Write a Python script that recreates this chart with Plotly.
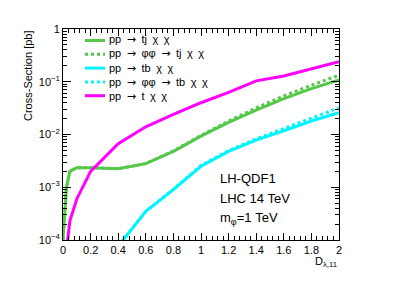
import plotly.graph_objects as go

# ---- data ----
x_tj = [0.0, 0.025, 0.05, 0.1, 0.2, 0.4, 0.6, 0.8, 1.0, 1.2, 1.4, 1.6, 1.8, 2.0]
y_tj = [1.0e-4, 1.0e-3, 2.0e-3, 2.35e-3, 2.35e-3, 2.25e-3, 2.8e-3, 4.8e-3, 9.3e-3, 1.7e-2, 2.9e-2, 4.8e-2, 7.4e-2, 0.108]
y_phiphi_tj = [1.0e-4, 1.0e-3, 2.0e-3, 2.35e-3, 2.35e-3, 2.25e-3, 2.8e-3, 4.9e-3, 9.6e-3, 1.8e-2, 3.2e-2, 5.4e-2, 8.6e-2, 0.133]

x_tb = [0.4, 0.6, 0.8, 1.0, 1.2, 1.4, 1.6, 1.8, 2.0]
y_tb = [7.6e-5, 3.5e-4, 9.0e-4, 2.5e-3, 4.8e-3, 7.8e-3, 1.18e-2, 1.8e-2, 2.6e-2]
y_phiphi_tb = [7.6e-5, 3.5e-4, 9.2e-4, 2.6e-3, 4.95e-3, 8.3e-3, 1.3e-2, 2.05e-2, 3.2e-2]

x_t = [0.0, 0.05, 0.1, 0.2, 0.4, 0.6, 0.8, 1.0, 1.2, 1.4, 1.6, 1.8, 2.0]
y_t = [1.8e-5, 2.3e-4, 6.0e-4, 2.0e-3, 6.7e-3, 1.4e-2, 2.4e-2, 4.0e-2, 6.3e-2, 0.104, 0.129, 0.173, 0.24]

names = ["pp → tj χ χ", "pp → φφ → tj χ χ", "pp → tb χ χ", "pp → φφ → tb χ χ", "pp → t χ χ"]
xtickvals = [0, 0.2, 0.4, 0.6, 0.8, 1.0, 1.2, 1.4, 1.6, 1.8, 2.0]
xticktext = ["0", "0.2", "0.4", "0.6", "0.8", "1", "1.2", "1.4", "1.6", "1.8", "2"]
ytickvals = [1e-4, 1e-3, 1e-2, 1e-1, 1]
yticktext = ["10<sup>−4</sup>", "10<sup>−3</sup>", "10<sup>−2</sup>", "10<sup>−1</sup>", "1"]

GREEN = "#55c84a"
CYAN = "#00f5ff"
MAGENTA = "#ff00ff"
FONT = "Liberation Sans"
ARROW = '<span style="font-family:DejaVu Sans">→</span>'

series = [
    (x_tj, y_tj, GREEN, "solid"),
    (x_tj, y_phiphi_tj, GREEN, "dot"),
    (x_tb, y_tb, CYAN, "solid"),
    (x_tb, y_phiphi_tb, CYAN, "dot"),
    (x_t, y_t, MAGENTA, "solid"),
]

fig = go.Figure()
for (xs, ys, col, dash), nm in zip(series, names):
    fig.add_trace(go.Scatter(x=xs, y=ys, mode="lines", name=nm,
                             line=dict(color=col, width=3, dash=dash)))

# page body has an 8px margin, so the figure is 8px smaller than the window
fig.update_layout(
    width=391, height=278,
    margin=dict(l=55, r=60, t=21, b=46),
    paper_bgcolor="white", plot_bgcolor="white",
    font=dict(family=FONT, size=11, color="black"),
    showlegend=False,
    xaxis=dict(range=[0, 2], tickvals=xtickvals, ticktext=xticktext, tickangle=0,
               showline=True, linecolor="black", linewidth=1, mirror="allticks",
               ticks="inside", ticklen=7, tickcolor="black",
               minor=dict(dtick=0.04, ticks="inside", ticklen=4, tickcolor="black"),
               showgrid=False, zeroline=False, automargin=False,
               tickfont=dict(size=11)),
    yaxis=dict(type="log", range=[-4, 0],
               tickvals=ytickvals, ticktext=yticktext,
               showline=True, linecolor="black", linewidth=1, mirror="allticks",
               ticks="inside", ticklen=8, tickcolor="black",
               minor=dict(dtick="D1", ticks="inside", ticklen=4, tickcolor="black"),
               showgrid=False, zeroline=False, automargin=False,
               tickfont=dict(size=11)),
)

# legend drawn by hand (compact ROOT-style spacing); positions relative to plot area
PW, PH, L, T = 276.0, 211.0, 63.0, 29.0
Y0, DY = 40.5, 13.8
for i, (xs, ys, col, dash) in enumerate(series):
    yp = 1 - (Y0 + DY * i - T) / PH
    fig.add_shape(type="line", xref="paper", yref="paper",
                  x0=(85 - L) / PW, x1=(105 - L) / PW, y0=yp, y1=yp,
                  line=dict(color=col, width=3, dash=dash))
legend_text = "<br>".join(n.replace(" ", "\u2002").replace("→", ARROW) for n in names)
fig.add_annotation(text=legend_text, xref="paper", yref="paper", align="left",
                   x=(107 - L) / PW, y=1 - (Y0 + DY * 2 - T) / PH,
                   xanchor="left", yanchor="middle",
                   showarrow=False, font=dict(size=11, family=FONT))

fig.add_annotation(text="Cross-Section [pb]", textangle=-90, xref="paper", yref="paper",
                   x=(28 - L) / PW, y=1.0, xanchor="center", yanchor="top", showarrow=False,
                   font=dict(size=11, family=FONT))
fig.add_annotation(text="D<sub>λ,11</sub>", xref="paper", yref="paper",
                   x=1.0, y=1 - (253 - T) / PH, xanchor="right", yanchor="top", showarrow=False,
                   font=dict(size=11, family=FONT))
for i, t in enumerate(["LH-QDF1", "LHC 14 TeV", "m<sub>φ</sub>=1 TeV"]):
    fig.add_annotation(text=t, xref="paper", yref="paper",
                       x=(218 - L) / PW, y=1 - (178 + 20 * i - T) / PH,
                       xanchor="left", yanchor="middle",
                       showarrow=False, font=dict(size=13, family=FONT))

fig.write_html("out.html")
